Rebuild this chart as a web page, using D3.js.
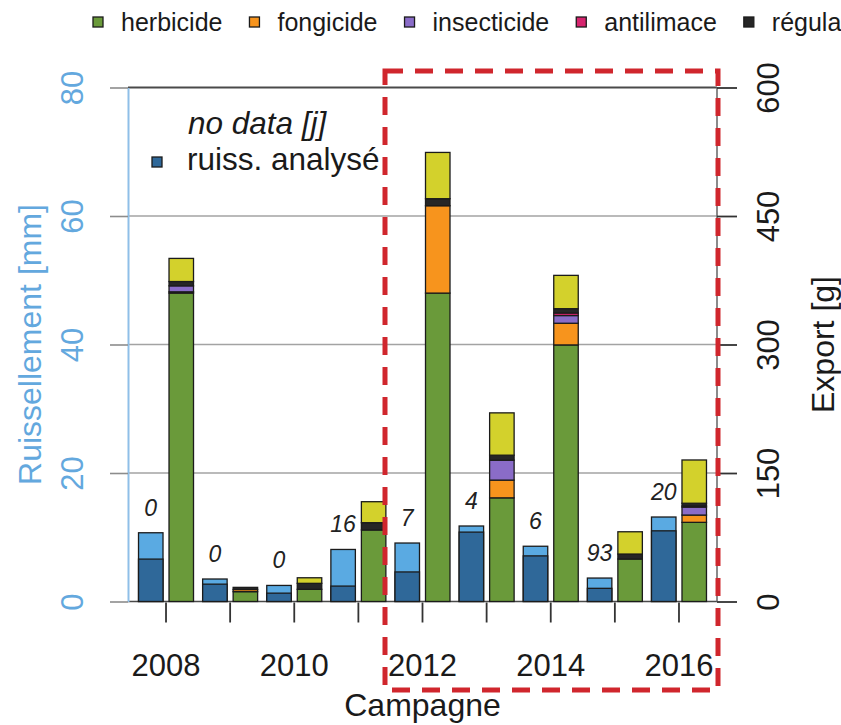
<!DOCTYPE html>
<html>
<head>
<meta charset="utf-8">
<script src="https://cdn.jsdelivr.net/npm/d3@7"></script>
<style>
  body { margin: 0; background: #fff; }
  svg { display: block; }
  text { font-family: "Liberation Sans", Arial, Helvetica, sans-serif; }
</style>
</head>
<body>
<svg id="chart" width="841" height="725"></svg>
<script>
// Campaigns (x axis)
const years = [2008, 2009, 2010, 2011, 2012, 2013, 2014, 2015, 2016];
const yearTickLabels = ["2008", "", "2010", "", "2012", "", "2014", "", "2016"];

// Runoff [mm]: total runoff and the part that was analysed
const runoffTotal    = [10.7, 3.5, 2.5, 8.1, 9.1, 11.75, 8.6, 3.65, 13.15];
const runoffAnalysed = [6.6, 2.7, 1.3, 2.4, 4.6, 10.8, 7.1, 2.05, 11.0];
// Days without data [j]
const noDataDays = [0, 0, 0, 16, 7, 4, 6, 93, 20];

// Exported amounts [g] per product family
const herbicide   = [360, 11.5, 14.2, 83.5, 360, 121, 299.5, 49.6, 92.4];
const fongicide   = [1.5, 2.5, 0, 0, 102, 20.7, 25.3, 0, 8.5];
const insecticide = [7, 0, 0, 0, 0, 23.3, 9, 0, 9.3];
const antilimace  = [0, 0, 0, 0, 0, 0, 3, 0, 1.3];
const regulateur  = [5, 2.5, 7, 8.5, 8.2, 5.8, 5, 5.8, 3.2];
const autres      = [27, 0, 6.5, 24.5, 54, 49.4, 38.9, 26, 50.5];

const leftTicks  = [0, 20, 40, 60, 80];
const rightTicks = [0, 150, 300, 450, 600];

const families = [
  { key: "herbicide",   label: "herbicide",   values: herbicide,   color: "#6a9a3a", legend: true },
  { key: "fongicide",   label: "fongicide",   values: fongicide,   color: "#f7941d", legend: true },
  { key: "insecticide", label: "insecticide", values: insecticide, color: "#8a6cc8", legend: true },
  { key: "antilimace",  label: "antilimace",  values: antilimace,  color: "#d6246e", legend: true },
  { key: "regulateur",  label: "régula",      values: regulateur,  color: "#262626", legend: true },
  { key: "autres",      label: "autres",      values: autres,      color: "#d3d12c", legend: false }
];

const rows = years.map((y, i) => {
  const r = { year: y };
  families.forEach(f => r[f.key] = f.values[i]);
  return r;
});

const svg = d3.select("#chart");

const plot = { left: 128, right: 717, top: 87.5, bottom: 601.5 };

const x = d3.scaleBand().domain(years).range([plot.left, plot.right])
  .paddingInner(0.1423).paddingOuter(0.164);
const xSub = d3.scaleBand().domain(["runoff", "export"]).range([0, x.bandwidth()])
  .paddingInner(0.197);
const yL = d3.scaleLinear().domain([0, 80]).range([plot.bottom, plot.top]);
const yR = d3.scaleLinear().domain([0, 600]).range([plot.bottom, plot.top]);

const blueAxis = "#63a8de";

// Horizontal grid lines
svg.append("g").selectAll("line").data([20, 40, 60]).join("line")
  .attr("x1", plot.left).attr("x2", plot.right)
  .attr("y1", d => yL(d)).attr("y2", d => yL(d))
  .attr("stroke", "#a3a3a3").attr("stroke-width", 1.6);
svg.append("line")
  .attr("x1", plot.left).attr("x2", plot.right)
  .attr("y1", yL(80)).attr("y2", yL(80))
  .attr("stroke", "#4a4a4a").attr("stroke-width", 2);
svg.append("line")
  .attr("x1", plot.left).attr("x2", plot.right)
  .attr("y1", yL(0)).attr("y2", yL(0))
  .attr("stroke", "#4a4a4a").attr("stroke-width", 1.6);
// Right frame line
svg.append("line")
  .attr("x1", plot.right).attr("x2", plot.right)
  .attr("y1", plot.top).attr("y2", plot.bottom)
  .attr("stroke", "#6d6d6d").attr("stroke-width", 1.6);

// Left axis (runoff)
const gL = svg.append("g").attr("transform", `translate(${plot.left},0)`)
  .call(d3.axisLeft(yL).tickValues(leftTicks).tickSize(18).tickSizeOuter(0));
gL.select(".domain").attr("stroke", "#8fbfe8").attr("stroke-width", 2);
gL.selectAll(".tick line").attr("stroke", "#8c8c8c").attr("stroke-width", 1.6);
gL.selectAll(".tick text")
  .attr("transform", "rotate(-90)")
  .attr("x", 0).attr("y", -45).attr("dy", 0)
  .attr("text-anchor", "middle")
  .attr("fill", blueAxis)
  .style("font-size", "31px");

// Right axis (export)
const gR = svg.append("g").attr("transform", `translate(${plot.right},0)`)
  .call(d3.axisRight(yR).tickValues(rightTicks).tickSize(20).tickSizeOuter(0));
gR.select(".domain").remove();
gR.selectAll(".tick line").attr("stroke", "#333").attr("stroke-width", 1.8);
gR.selectAll(".tick text")
  .attr("transform", "rotate(-90)")
  .attr("x", 0).attr("y", 62).attr("dy", 0)
  .attr("text-anchor", "middle")
  .attr("fill", "#1a1a1a")
  .style("font-size", "31px");

// Bottom axis (campaigns)
const gB = svg.append("g").attr("transform", `translate(0,${plot.bottom + 1})`)
  .call(d3.axisBottom(x).tickSize(20).tickSizeOuter(0)
    .tickFormat((d, i) => yearTickLabels[i]));
gB.select(".domain").remove();
gB.selectAll(".tick line").attr("stroke", "#333").attr("stroke-width", 1.8);
gB.selectAll(".tick text")
  .attr("y", 73).attr("dy", 0)
  .attr("fill", "#1a1a1a")
  .style("font-size", "31px");

// Runoff bars: total (light) with analysed part (dark) below
const runG = svg.append("g");
runG.selectAll("rect.total").data(rows).join("rect")
  .attr("x", (d) => x(d.year) + xSub("runoff"))
  .attr("width", xSub.bandwidth())
  .attr("y", (d, i) => yL(runoffTotal[i]))
  .attr("height", (d, i) => yL(0) - yL(runoffTotal[i]))
  .attr("fill", "#5aaae2").attr("stroke", "#1b1b1b").attr("stroke-width", 1.3);
runG.selectAll("rect.analysed").data(rows).join("rect")
  .attr("x", (d) => x(d.year) + xSub("runoff"))
  .attr("width", xSub.bandwidth())
  .attr("y", (d, i) => yL(runoffAnalysed[i]))
  .attr("height", (d, i) => yL(0) - yL(runoffAnalysed[i]))
  .attr("fill", "#2f6899").attr("stroke", "#1b1b1b").attr("stroke-width", 1.3);

// Export bars, stacked by product family
const stack = d3.stack().keys(families.map(f => f.key));
const series = stack(rows);
const expG = svg.append("g");
series.forEach((s, k) => {
  expG.append("g").selectAll("rect").data(s.filter(d => d[1] - d[0] > 0)).join("rect")
    .attr("x", d => x(d.data.year) + xSub("export"))
    .attr("width", xSub.bandwidth())
    .attr("y", d => yR(d[1]))
    .attr("height", d => yR(d[0]) - yR(d[1]))
    .attr("fill", families[k].color)
    .attr("stroke", "#1b1b1b").attr("stroke-width", 1.3);
});

// No-data day counts above runoff bars
svg.append("g").selectAll("text").data(rows).join("text")
  .attr("x", d => x(d.year) + xSub("runoff") + xSub.bandwidth() / 2)
  .attr("y", (d, i) => yL(runoffTotal[i]) - 17)
  .attr("text-anchor", "middle")
  .attr("fill", "#222")
  .style("font-size", "23px").style("font-style", "italic")
  .text((d, i) => noDataDays[i]);

// Inner legend
svg.append("text").attr("x", 188).attr("y", 134)
  .style("font-size", "31.5px").style("font-style", "italic").attr("fill", "#1a1a1a")
  .text("no data [j]");
svg.append("rect").attr("x", 152).attr("y", 157).attr("width", 10).attr("height", 10)
  .attr("fill", "#2f6899").attr("stroke", "#1b1b1b").attr("stroke-width", 1.3);
svg.append("text").attr("x", 187).attr("y", 170)
  .style("font-size", "31.5px").attr("fill", "#1a1a1a")
  .text("ruiss. analysé");

// Top legend (product families)
const lg = svg.append("g");
let lx = 98;
families.filter(f => f.legend).forEach(f => {
  lg.append("rect").attr("x", lx - 5).attr("y", 17).attr("width", 10).attr("height", 10)
    .attr("fill", f.color).attr("stroke", "#1b1b1b").attr("stroke-width", 1.3);
  const t = lg.append("text").attr("x", lx + 23).attr("y", 31)
    .style("font-size", "25px").attr("fill", "#1a1a1a").text(f.label);
  lx = lx + 23 + t.node().getComputedTextLength() + 32;
});

// Axis titles
svg.append("text")
  .attr("transform", `translate(41,${(plot.top + plot.bottom) / 2}) rotate(-90)`)
  .attr("text-anchor", "middle").attr("fill", blueAxis)
  .style("font-size", "32px").text("Ruissellement [mm]");
svg.append("text")
  .attr("transform", `translate(834,${(plot.top + plot.bottom) / 2}) rotate(-90)`)
  .attr("text-anchor", "middle").attr("fill", "#1a1a1a")
  .style("font-size", "32px").text("Export [g]");
svg.append("text")
  .attr("x", (plot.left + plot.right) / 2).attr("y", 716)
  .attr("text-anchor", "middle").attr("fill", "#1a1a1a")
  .style("font-size", "32px").text("Campagne");

// Highlighted period (dashed frame)
svg.append("rect")
  .attr("x", 385).attr("y", 71).attr("width", 333).attr("height", 619)
  .attr("fill", "none").attr("stroke", "#d0262d").attr("stroke-width", 5)
  .attr("stroke-dasharray", "18,12");
</script>
</body>
</html>
